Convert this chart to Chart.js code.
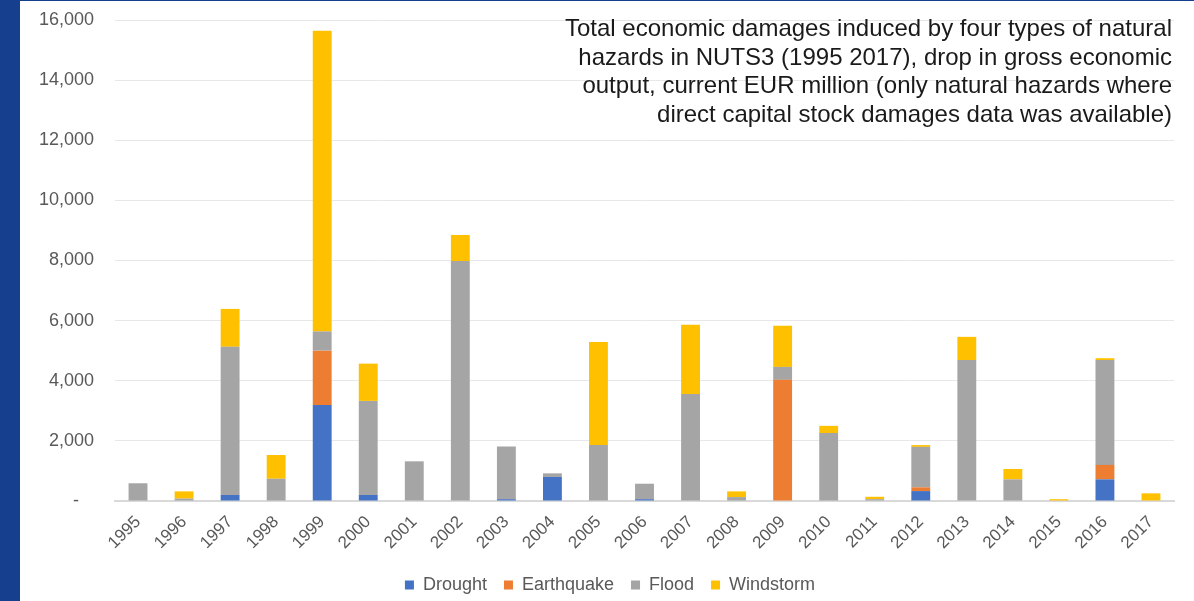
<!DOCTYPE html>
<html>
<head>
<meta charset="utf-8">
<script src="https://cdn.jsdelivr.net/npm/chart.js@4.4.1/dist/chart.umd.min.js"></script>
<style>
  html, body {
    margin: 0;
    padding: 0;
    background: #ffffff;
  }
  .wrap {
    position: relative;
    width: 1194px;
    height: 601px;
    overflow: hidden;
  }
  .side-strip {
    position: absolute;
    left: 0;
    top: 0;
    width: 20px;
    height: 601px;
    background: #163f8e;
  }
  .top-line {
    position: absolute;
    left: 0;
    top: 0;
    width: 1194px;
    height: 1px;
    background: #163f8e;
  }
  .chart-note {
    position: absolute;
    right: 22px;
    top: 14px;
    width: 700px;
    text-align: right;
    font-family: "Liberation Sans", Arial, sans-serif;
    font-size: 24px;
    line-height: 28.5px;
    color: #1a1a1a;
  }
  canvas {
    position: absolute;
    left: 0;
    top: 0;
  }
</style>
</head>
<body>
<div class="wrap">
  <canvas id="damagesChart" width="1194" height="604"></canvas>
  <div class="side-strip"></div>
  <div class="top-line"></div>
  <div class="chart-note">
    Total economic damages induced by four types of natural<br>
    hazards in NUTS3 (1995 2017), drop in gross economic<br>
    output, current EUR million (only natural hazards where<br>
    direct capital stock damages data was available)
  </div>
</div>
<script>
// Damages per year and hazard type, EUR million
const years = ["1995", "1996", "1997", "1998", "1999", "2000", "2001", "2002",
  "2003", "2004", "2005", "2006", "2007", "2008", "2009", "2010", "2011",
  "2012", "2013", "2014", "2015", "2016", "2017"];

const drought = [0, 0, 200, 0, 3190, 200, 0, 0, 60, 800, 0, 60, 0, 0, 0, 0,
  0, 330, 0, 0, 0, 720, 0];
const earthquake = [0, 0, 0, 0, 1810, 0, 0, 0, 0, 0, 0, 0, 0, 0, 4030, 0,
  0, 125, 0, 0, 0, 480, 0];
const flood = [590, 80, 4930, 740, 640, 3130, 1320, 7980, 1750, 120, 1860,
  515, 3560, 130, 430, 2260, 60, 1345, 4690, 720, 0, 3490, 0];
const windstorm = [0, 240, 1260, 790, 10000, 1240, 0, 870, 0, 0, 3430, 0,
  2300, 190, 1370, 240, 80, 60, 770, 345, 60, 60, 255];

const yTicks = [0, 2000, 4000, 6000, 8000, 10000, 12000, 14000, 16000];

const axisFont = { family: "'Liberation Sans', Arial, sans-serif", size: 18 };
const textGrey = "#595959";

const barStyle = {
  barPercentage: 0.41,
  categoryPercentage: 1.0,
};

// Centre the legend under the plot area instead of the whole canvas
const legendUnderPlot = {
  id: "legendUnderPlot",
  afterLayout(chart) {
    if (chart.legend) {
      chart.legend.left += 26;
    }
  },
};

const ctx = document.getElementById("damagesChart").getContext("2d");
new Chart(ctx, {
  type: "bar",
  data: {
    labels: years,
    datasets: [
      { label: "Drought", data: drought, backgroundColor: "#4472c4", ...barStyle },
      { label: "Earthquake", data: earthquake, backgroundColor: "#ed7d31", ...barStyle },
      { label: "Flood", data: flood, backgroundColor: "#a5a5a5", ...barStyle },
      { label: "Windstorm", data: windstorm, backgroundColor: "#ffc000", ...barStyle },
    ],
  },
  plugins: [legendUnderPlot],
  options: {
    responsive: false,
    animation: false,
    layout: {
      padding: { left: 20, right: 20, top: 20, bottom: 0 },
    },
    plugins: {
      legend: {
        position: "bottom",
        labels: {
          color: textGrey,
          font: axisFont,
          boxWidth: 9,
          boxHeight: 9,
          padding: 17,
        },
      },
      tooltip: { enabled: false },
    },
    scales: {
      x: {
        stacked: true,
        grid: { display: false },
        border: { color: "#d9d9d9", width: 2 },
        ticks: {
          color: textGrey,
          font: { family: axisFont.family, size: 17 },
          maxRotation: 45,
          minRotation: 45,
          padding: 3,
        },
        afterFit: (scale) => {
          scale.height = 58;
        },
      },
      y: {
        stacked: true,
        min: 0,
        max: 16000,
        afterBuildTicks: (scale) => {
          scale.ticks = yTicks.map((v) => ({ value: v }));
        },
        grid: { color: "#e8e8e8", lineWidth: 1, drawTicks: false },
        border: { display: false },
        ticks: {
          color: textGrey,
          font: axisFont,
          padding: 21,
          callback: (v) => (v === 0 ? "-   " : v.toLocaleString("en-US")),
        },
        afterFit: (scale) => {
          scale.width = 95;
          scale.paddingTop = 0;
        },
      },
    },
  },
});
</script>
</body>
</html>
